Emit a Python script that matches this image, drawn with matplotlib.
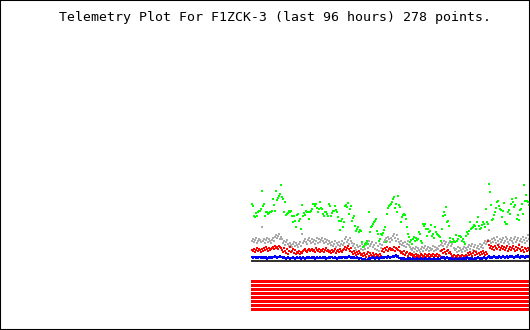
import matplotlib
matplotlib.use("Agg")
import matplotlib.pyplot as plt
import numpy as np
from matplotlib.patches import Rectangle

# telemetry readings, one per point (arbitrary units above the baseline)
green_vals = [
    59, 57, 47, 46, 50, 47, 51, 52, 52, 54, 72, 57, 59, 47, 51, 51, 49, 50, 51, 51,
    52, 64, 58, 52, 72, 63, 65, 67, 69, 78, 66, 64, 51, 61, 48, 49, 50, 52, 51, 52,
    47, 41, 47, 42, 36,
    48, 49, 42, 44, 34, 58, 47, 50, 48, 52, 51, 51, 44, 51, 52, 54, 59, 59, 57, 59,
    55, 51, 54, 61, 55, 54, 49, 47, 51, 51, 49, 47, 59, 57, 47, 50, 52, 52, 57, 53,
    51, 46, 42, 33, 42, 44, 36, 41,
    57, 58, 56, 60, 49, 54, 57, 42, 45, 47, 37, 32, 34, 36, 31, 33, 32, 21, 16, 17,
    19, 20, 22, 19, 51, 31, 36, 37, 39, 41, 42, 44, 32, 29, 22, 24, 29, 28, 30, 33,
    36, 21, 49, 55, 57, 58, 59, 61,
    64, 66, 55, 59, 51, 67, 58, 56, 41, 46, 48, 49, 48, 44, 36, 29, 26, 21, 23, 19,
    24, 26, 22, 25, 23, 24, 31, 29, 22, 20, 39, 37, 39, 34, 27, 34, 31, 32, 38, 27,
    29, 25, 36, 31, 29, 28, 27, 26,
    22, 34, 47, 51, 48, 56, 41, 42, 37, 25, 21, 21, 24, 22, 21, 28, 22, 24, 27, 27,
    26, 22, 24, 21, 19, 27, 31, 29, 32, 41, 34, 35, 36, 38, 37, 34, 41, 46, 37, 34,
    35, 38, 41, 39, 36, 54, 41, 39,
    79, 71, 58, 43, 44, 48, 51, 55, 61, 62, 57, 54, 53, 46, 52, 60, 41, 39, 39, 51,
    53, 49, 59, 64, 61, 56, 58, 65, 44, 48, 43, 53, 54, 59, 49, 78, 62, 68, 62, 61,
    58,
]

gray_vals = [
    22, 24, 21, 23, 25, 20, 22, 24, 23, 21, 36, 22, 24, 20, 23, 25, 21, 24, 22, 20,
    23, 25, 22, 26, 28, 25, 27, 29, 24, 26, 24, 20, 22, 18, 21, 23, 19, 17, 20, 18,
    16, 19, 21, 17, 20, 18, 16, 19, 21, 17, 29, 20, 22, 24, 21, 19, 23, 25, 22, 20,
    24, 21, 23, 19, 22, 25, 20, 24, 21, 23, 25, 22, 20, 24, 21, 23, 19, 22, 20, 18,
    21, 17, 19, 22, 16, 20, 18, 21, 17, 19, 22, 18, 20, 24, 26, 21, 23, 19, 25, 22,
    20, 17, 19, 15, 13, 18, 16, 12, 17, 14, 19, 13, 16, 14, 18, 20, 15, 22, 17, 19,
    21, 16, 18, 14, 20, 13, 17, 12, 19, 15, 18, 14, 21, 23, 25, 22, 26, 24, 21, 25,
    23, 27, 29, 25, 22, 28, 24, 21, 19, 22, 18, 20, 17, 21, 16, 19, 22, 18, 16, 14,
    13, 15, 11, 14, 16, 12, 15, 13, 11, 14, 16, 12, 15, 17, 13, 14, 16, 12, 15, 13,
    14, 17, 12, 16, 13, 15, 14, 17, 12, 18, 20, 17, 22, 19, 21, 16, 18, 20, 22, 17,
    19, 21, 15, 13, 14, 11, 16, 12, 15, 13, 11, 14, 16, 12, 15, 13, 16, 18, 14, 17,
    19, 13, 16, 18, 12, 15, 17, 14, 19, 16, 18, 15, 20, 22, 19, 21, 23, 33, 22, 20,
    24, 21, 25, 23, 20, 26, 22, 19, 24, 21, 23, 25, 20, 22, 26, 24, 21, 19, 23, 25,
    22, 20, 24, 26, 21, 23, 25, 19, 22, 24, 21, 26, 23, 20, 25, 22, 28, 24,
]

red_vals = [
    13, 12, 14, 11, 13, 15, 12, 14, 13, 11, 14, 12, 15, 13, 16, 14, 12, 15, 13, 14,
    15, 16, 14, 17, 15, 16, 14, 17, 16, 15, 13, 11, 15, 12, 10, 14, 9, 12, 16, 11,
    12, 14, 10, 13, 9, 11, 10, 12, 9, 11, 10, 12, 13, 14, 12, 11, 13, 14, 12, 13,
    14, 12, 13, 11, 15, 13, 12, 14, 11, 13, 12, 14, 11, 13, 15, 12, 13, 11, 12, 10,
    13, 11, 12, 14, 10, 12, 13, 11, 14, 12, 11, 13, 14, 16, 13, 15, 17, 14, 12, 15,
    11, 9, 12, 10, 8, 11, 9, 12, 10, 8, 9, 7, 10, 8, 6, 9, 11, 7, 10, 8,
    7, 10, 8, 6, 9, 7, 8, 6, 9, 7, 12, 14, 11, 15, 13, 16, 12, 14, 15, 13,
    14, 13, 16, 12, 15, 14, 13, 16, 12, 10, 11, 9, 12, 8, 10, 11, 7, 9, 10, 8,
    9, 7, 8, 6, 9, 7, 8, 6, 7, 9, 8, 6, 7, 9, 6, 8, 7, 9, 6, 8,
    7, 9, 6, 8, 7, 9, 6, 8, 7, 12, 13, 10, 14, 11, 9, 12, 13, 10, 11, 9,
    7, 6, 8, 5, 7, 6, 8, 5, 7, 6, 8, 5, 7, 6, 8, 7, 10, 8, 11, 9,
    7, 10, 12, 8, 11, 9, 6, 10, 8, 11, 9, 12, 10, 8, 11, 9, 22, 18, 15, 17,
    14, 16, 13, 17, 15, 14, 18, 16, 13, 15, 17, 14, 16, 13, 15, 17, 12, 14, 16, 13,
    15, 17, 14, 12, 16, 13, 15, 18, 14, 12, 16, 13, 11, 15, 14, 12, 15, 13,
]

blue_vals = [
    6, 5, 6, 6, 5, 6, 5, 6, 6, 5, 6, 5, 6, 5, 6, 4, 5, 6, 5, 6,
    5, 6, 6, 7, 6, 5, 6, 6, 7, 6, 6, 5, 6, 5, 4, 5, 6, 5, 4, 5,
    5, 6, 5, 4, 5, 6, 5, 5, 6, 4, 5, 6, 5, 4, 5, 6, 5, 6, 5, 5,
    6, 5, 6, 4, 5, 6, 5, 5, 6, 5, 5, 6, 5, 6, 4, 5, 5, 6, 5, 6,
    6, 5, 5, 6, 5, 4, 5, 6, 5, 6, 5, 6, 6, 5, 6, 5, 6, 7, 6, 5,
    6, 5, 6, 5, 5, 6, 5, 4, 5, 5, 4, 4, 3, 4, 3, 3, 4, 5, 4, 5,
    5, 6, 5, 4, 5, 6, 5, 4, 5, 6, 5, 6, 5, 6, 6, 5, 7, 6, 5, 6,
    6, 7, 6, 7, 8, 6, 7, 5, 5, 4, 5, 4, 5, 4, 3, 4, 5, 4, 5, 3,
    4, 5, 4, 3, 4, 5, 4, 4, 3, 5, 4, 3, 4, 5, 4, 3, 4, 5, 4, 4,
    3, 4, 5, 4, 3, 4, 5, 4, 4, 5, 6, 5, 6, 4, 5, 6, 5, 4, 5, 4,
    5, 4, 3, 4, 5, 4, 3, 4, 5, 4, 4, 5, 4, 5, 4, 6, 5, 4, 5, 4,
    5, 4, 3, 5, 4, 5, 6, 5, 4, 5, 4, 5, 6, 5, 4, 5, 6, 7, 5, 6,
    5, 6, 7, 6, 5, 6, 5, 7, 6, 5, 6, 7, 6, 5, 6, 7, 5, 6, 7, 6,
    7, 6, 5, 6, 7, 6, 8, 6, 5, 7, 6, 7, 6, 5, 7, 6, 7, 6,
]

# digital bits, all eight channels set for every point
bit_labels = ["B1", "B2", "B3", "B4", "B5", "B6", "B7", "B8"]
bit_states = [1, 1, 1, 1, 1, 1, 1, 1]

baseline = 1.5
title = "Telemetry Plot For F1ZCK-3 (last 96 hours) 278 points."

W, H = 530, 330
fig = plt.figure(figsize=(W / 100, H / 100), dpi=100)
fig.patch.set_facecolor("white")

n = len(green_vals)
xs = np.arange(n)

# analog channels
ax = fig.add_axes([251 / W, (H - 262) / H, 279 / W, 92 / H])
ax.set_xlim(-0.5, n + 0.5)
ax.set_ylim(0.5, 92.5)
ax.axis("off")

ms = 1.5
ax.plot(xs, gray_vals, ls="none", marker="s", ms=ms, mew=0, color="#aaaaaa")
ax.plot(xs, green_vals, ls="none", marker="s", ms=ms, mew=0, color="#00ff00")
ax.plot(xs, red_vals, ls="none", marker="s", ms=ms, mew=0, color="#ff0000")
ax.plot(xs, blue_vals, ls="none", marker="s", ms=ms, mew=0, color="#0000ff")
ax.axhline(baseline, color="#333333", lw=1.5, xmin=0, xmax=1)

# bit channels
bx = fig.add_axes([251 / W, (H - 312) / H, 279 / W, 32 / H])
bx.set_xlim(-0.5, n + 0.5)
bx.set_ylim(len(bit_labels) - 0.5 + 0.125, -0.5 + 0.125)
bx.axis("off")
for i, on in enumerate(bit_states):
    if on:
        bx.barh(i, n + 1, left=-0.5, height=0.75, color="#ff0000", linewidth=0)

fig.text(275 / W, 1 - 17 / H, title, ha="center", va="center",
         fontsize=9.55, family="DejaVu Sans Mono", color="black")

fig.patches.append(Rectangle((0, 0), 1, 1, transform=fig.transFigure,
                             fill=False, edgecolor="black", linewidth=1.5))

fig.savefig("out.png", dpi=100)
